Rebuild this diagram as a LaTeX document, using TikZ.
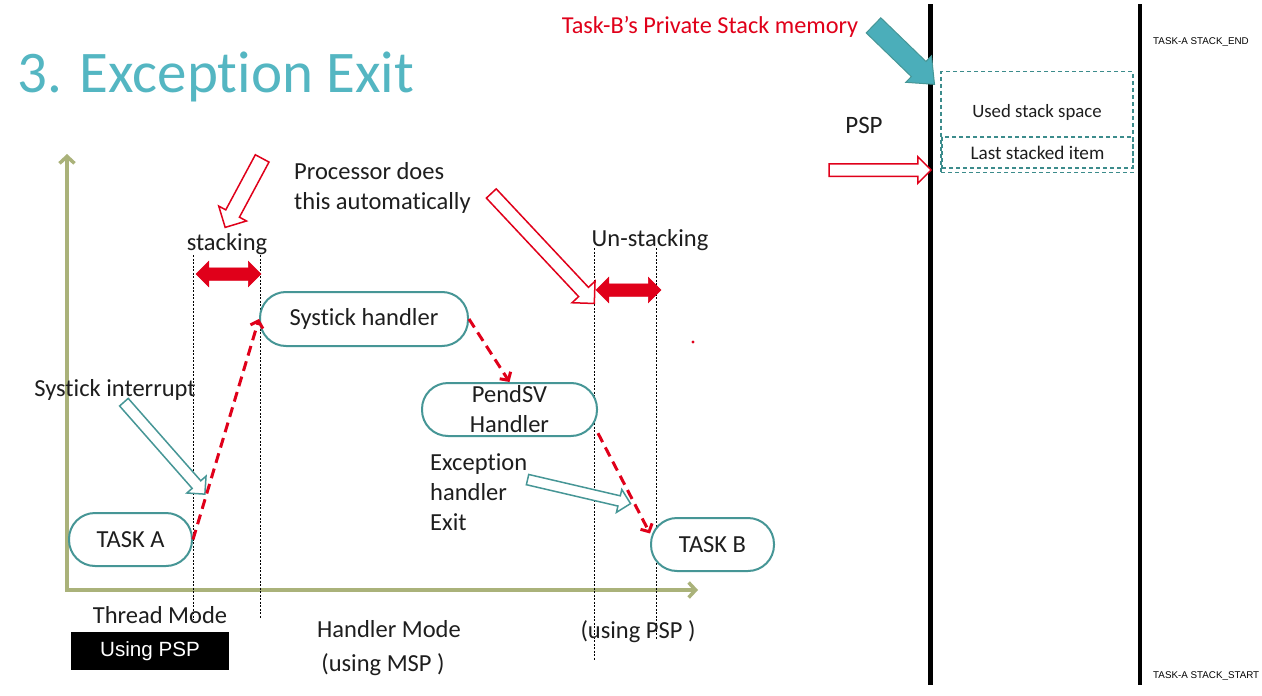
\documentclass[tikz,border=0pt]{standalone}
\usepackage{fontspec}
\setmainfont{Carlito}[Ligatures=NoCommon]
\newfontfamily\arialfont{Liberation Sans}
\usetikzlibrary{shapes.arrows,arrows.meta,calc}
\definecolor{titlec}{RGB}{84,182,194}
\definecolor{tealb}{RGB}{70,150,150}
\definecolor{dashteal}{RGB}{60,140,140}
\definecolor{axisc}{RGB}{170,178,122}
\definecolor{redc}{RGB}{224,0,26}
\definecolor{tealfill}{RGB}{75,174,186}
\definecolor{txt}{RGB}{30,30,30}
\newcommand\blkarrow[4]{\path let \p1=($(#3)-(#2)$), \n1={atan2(\y1,\x1)}, \n2={veclen(\x1,\y1)} in node[#1, rotate=\n1, minimum height=\n2] (#4) at ($(#2)!0.5!(#3)$) {};}
\tikzset{
  task/.style={draw=tealb, line width=2pt, rounded corners=26pt, fill=white, inner sep=0pt, text=txt, font=\fontsize{24.5}{30}\selectfont, align=center},
  lbl/.style={text=txt, inner sep=0pt, font=\fontsize{24.5}{30}\selectfont},
  blk/.style={single arrow, inner xsep=0pt, minimum width=0pt, single arrow head indent=0pt},
  hollowred/.style={blk, draw=redc, fill=white, line width=1.5pt},
  hollowteal/.style={blk, draw=tealb, fill=white, line width=1.5pt},
  redboth/.style={double arrow, draw=redc, fill=redc, line width=0.5pt, inner xsep=0pt, inner ysep=6pt, minimum width=0pt, double arrow head extend=6.5pt, double arrow head indent=0pt},
  reddash/.style={draw=redc, line width=3pt, dash pattern=on 10pt off 6pt, -{Straight Barb[length=6pt,width=13pt]}},
  vdash/.style={draw=black, line width=0.8pt, dash pattern=on 2pt off 1.5pt},
  stackbox/.style={draw=dashteal, line width=1.5pt, dash pattern=on 4pt off 3pt, inner sep=0pt},
  axis/.style={draw=axisc, line width=3.5pt, {Straight Barb[length=7pt,width=15pt]}-{Straight Barb[length=7pt,width=15pt]}}
}
\begin{document}
\begin{tikzpicture}[x=1pt,y=-1pt]
\useasboundingbox (0,0) rectangle (1262,696);
\fill[white] (0,0) rectangle (1262,696);

% title
\node[anchor=base west, inner sep=0pt, text=titlec, font=\fontsize{59}{66}\selectfont] (title) at (17,92) {3. Exception Exit};

% memory side
\draw[line width=5pt] (930,4) -- (930,685);
\draw[line width=4pt] (1140,4) -- (1140,685);
\node[anchor=west, inner sep=0pt, font=\arialfont\fontsize{9.8}{11}\selectfont] (stackend) at (1153,42) {TASK-A STACK\_END};
\node[anchor=west, inner sep=0pt, font=\arialfont\fontsize{9.8}{11}\selectfont] (stackstart) at (1153,676) {TASK-A STACK\_START};
\node[stackbox, minimum width=192pt, minimum height=101pt] (usedbox) at (1037,122) {};
\node[lbl, font=\fontsize{18.8}{22}\selectfont] (usedtxt) at (1037,112) {Used stack space};
\node[stackbox, minimum width=191pt, minimum height=31pt, text=txt, font=\fontsize{19.2}{22}\selectfont] (lastbox) at (1037.5,152.5) {Last stacked item};
\node[lbl, font=\fontsize{25}{28}\selectfont] (psp) at (864,125) {PSP};
\node[inner sep=0pt, text=redc, font=\fontsize{24.3}{28}\selectfont] (taskbmem) at (710,27) {Task-B’s Private Stack memory};
\coordinate (memtail) at (869,21);
\coordinate (memtip) at (930,80);
\blkarrow{blk, draw=tealb, fill=tealfill, line width=1pt, inner ysep=10pt, single arrow head extend=8pt, single arrow tip angle=80}{memtail}{memtip}{memarrow}
\coordinate (psptail) at (826,170);
\coordinate (psptip) at (928,170);
\blkarrow{hollowred, inner ysep=5.5pt, single arrow head extend=7pt}{psptail}{psptip}{psparrow}

% axes
\coordinate (origin) at (67,590);
\coordinate (ytop) at (67,154);
\coordinate (xend) at (698,590);
\draw[axis] (ytop) -- (origin) -- (xend);

% dashed verticals
\draw[vdash] (193,255) -- (193,620);
\draw[vdash] (260,255) -- (260,618);
\draw[vdash] (594,248) -- (594,660);
\draw[vdash] (656,248) -- (656,640);

% labels
\node[lbl] (stacking) at (227,244) {stacking};
\node[lbl] (unstacking) at (650,240) {Un-stacking};
\node[lbl, anchor=west, align=left] (proc) at (294,188) {Processor does\\this automatically};
\node[lbl] (sysint) at (115,390) {Systick interrupt};
\node[lbl, anchor=west, align=left] (excexit) at (430,492) {Exception\\handler\\Exit};
\node[lbl] (thread) at (160,615) {Thread Mode};
\node[lbl] (handler) at (389,629) {Handler Mode};
\node[lbl] (usingmsp) at (383,665) {(using MSP )};
\node[lbl] (usingpsp2) at (638,632) {(using PSP )};
\node[fill=black, text=white, minimum width=158pt, minimum height=38pt, inner sep=0pt, font=\arialfont\fontsize{20.6}{24}\selectfont] (usingpsp) at (150,651) {Using PSP};

% double arrows
\coordinate (st1) at (196,274);
\coordinate (st2) at (261,274);
\blkarrow{redboth}{st1}{st2}{stackarrow}
\coordinate (us1) at (596,290);
\coordinate (us2) at (661,290);
\blkarrow{redboth}{us1}{us2}{unstackarrow}

% hollow arrows
\coordinate (sa1) at (264,155);
\coordinate (sa2) at (227,224);
\blkarrow{hollowred, inner ysep=7pt, single arrow head extend=8pt}{sa1}{sa2}{stackhint}
\coordinate (pa1) at (489,191);
\coordinate (pa2) at (592,301);
\blkarrow{hollowred, inner ysep=6pt, single arrow head extend=9pt}{pa1}{pa2}{prochint}
\coordinate (ia1) at (122,400);
\coordinate (ia2) at (203,492);
\blkarrow{hollowteal, inner ysep=5pt, single arrow head extend=7pt}{ia1}{ia2}{inthint}
\coordinate (ea1) at (525,479);
\coordinate (ea2) at (628,503);
\blkarrow{hollowteal, inner ysep=4.5pt, single arrow head extend=6.5pt}{ea1}{ea2}{exithint}

% task nodes
\node[task, minimum width=123pt, minimum height=53pt] (taskA) at (130.5,539.5) {TASK A};
\node[task, minimum width=208pt, minimum height=54pt] (sys) at (364,319) {Systick handler};
\node[task, minimum width=175pt, minimum height=53pt] (pend) at (509.5,409.5) {PendSV\\Handler};
\node[task, minimum width=123pt, minimum height=53pt] (taskB) at (712.5,544.5) {TASK B};

% red dashed flow
\draw[reddash] (taskA.east) -- (sys.west);
\draw[reddash] (sys.east) -- (pend.north);
\draw[reddash] (pend.-15) -- (taskB.170);

% stray dot
\fill[redc] (693,342) circle (1.6pt);
\end{tikzpicture}
\end{document}
